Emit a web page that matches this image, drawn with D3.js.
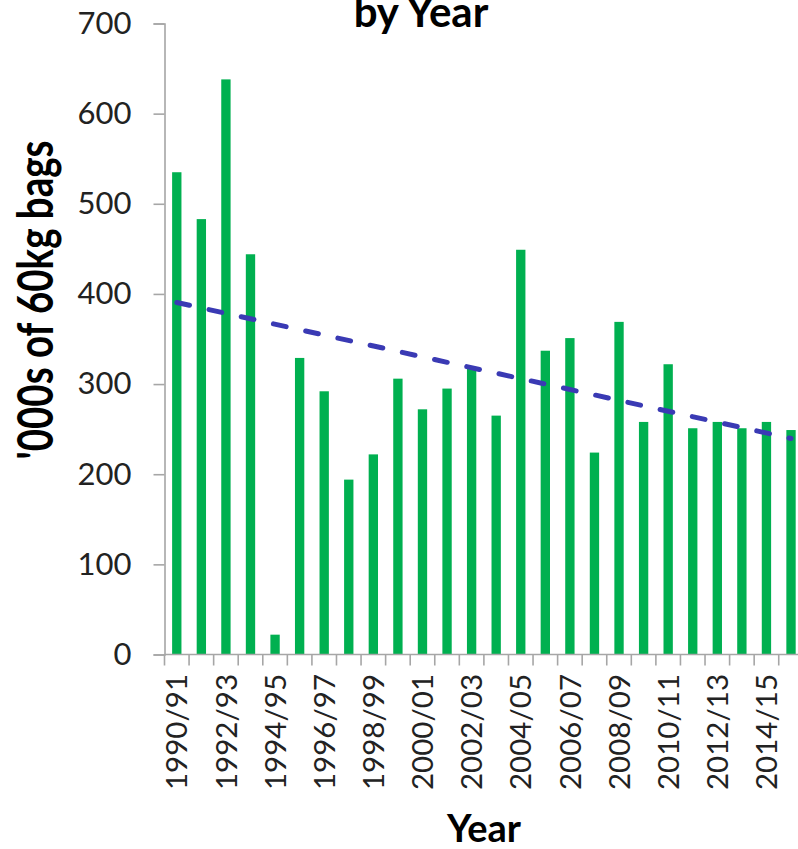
<!DOCTYPE html>
<html>
<head>
<meta charset="utf-8">
<script src="https://cdn.jsdelivr.net/npm/d3@7"></script>
<style>
  html, body { margin: 0; padding: 0; background: #fff; }
  svg { display: block; }
  text { font-family: Lato, "Open Sans", sans-serif; fill: #222; }
</style>
</head>
<body>
<svg id="chart" width="798" height="849"></svg>
<script>
// Season production, thousands of 60kg bags
const seasons = [
  "1990/91","1991/92","1992/93","1993/94","1994/95","1995/96","1996/97",
  "1997/98","1998/99","1999/00","2000/01","2001/02","2002/03","2003/04",
  "2004/05","2005/06","2006/07","2007/08","2008/09","2009/10","2010/11",
  "2011/12","2012/13","2013/14","2014/15","2015/16"
];
const production = [
  535, 483, 638, 444, 22, 329, 292, 194, 222, 306, 272, 295, 319,
  265, 449, 337, 351, 224, 369, 258, 322, 251, 258, 251, 258, 249
];
const yTicks = [0, 100, 200, 300, 400, 500, 600, 700];
const titleText = "by Year";
const xTitle = "Year";
const yTitle = "'000s of 60kg bags";

const svg = d3.select("#chart");

const x = d3.scaleBand()
  .domain(seasons)
  .range([164.5, 803.3])
  .paddingInner(0.62)
  .paddingOuter(0.31);

const y = d3.scaleLinear().domain([0, 700]).range([654.5, 23.5]);

const axisColor = "#a6a6a6";

// Title (its first line sits above the top edge)
svg.append("text")
  .attr("x", 421).attr("y", 27)
  .attr("text-anchor", "middle")
  .attr("font-weight", "bold")
  .attr("font-size", 42)
  .style("fill", "#000")
  .text(titleText);

// Bars
svg.append("g").selectAll("rect")
  .data(seasons)
  .join("rect")
  .attr("x", d => x(d))
  .attr("width", x.bandwidth())
  .attr("y", (d, i) => y(production[i]))
  .attr("height", (d, i) => y(0) - y(production[i]))
  .attr("fill", "#00b050");

// Y axis
const yAxis = d3.axisLeft(y).tickValues(yTicks).tickSize(11).tickPadding(22);
const gy = svg.append("g").attr("transform", "translate(164.5,0)").call(yAxis);
gy.select(".domain").attr("stroke", axisColor).attr("stroke-width", 1.6);
gy.selectAll(".tick line").attr("stroke", axisColor).attr("stroke-width", 1.6);
gy.selectAll(".tick text")
  .attr("font-family", "Lato, 'Open Sans', sans-serif")
  .attr("font-size", 31)
  .style("fill", "#222");

// X axis: tick marks on the category boundaries, labels on every other season
const step = x.step();
const x0 = x.range()[0];
const boundaries = d3.range(seasons.length + 1);
const gx = svg.append("g");
gx.append("line")
  .attr("x1", x0).attr("x2", x.range()[1])
  .attr("y1", y(0)).attr("y2", y(0))
  .attr("stroke", axisColor).attr("stroke-width", 1.6);
gx.selectAll("line.tk")
  .data(boundaries)
  .join("line")
  .attr("class", "tk")
  .attr("x1", i => x0 + i * step).attr("x2", i => x0 + i * step)
  .attr("y1", y(0)).attr("y2", y(0) + 11)
  .attr("stroke", axisColor).attr("stroke-width", 1.6);
gx.selectAll("text")
  .data(seasons.filter((d, i) => i % 2 === 0))
  .join("text")
  .attr("transform", d => `translate(${x(d) + x.bandwidth() / 2},674) rotate(-90)`)
  .attr("dy", "0.36em")
  .attr("text-anchor", "end")
  .attr("font-size", 29.5)
  .text(d => d);

// Axis titles
svg.append("text")
  .attr("x", 484).attr("y", 842)
  .attr("text-anchor", "middle")
  .attr("font-weight", "bold")
  .attr("font-size", 38)
  .style("fill", "#000")
  .text(xTitle);

svg.append("text")
  .attr("transform", "translate(53,300) rotate(-90) scale(1,1.28)")
  .attr("text-anchor", "middle")
  .attr("font-weight", "bold")
  .attr("font-size", 38.5)
  .style("fill", "#000")
  .text(yTitle);

// Linear least-squares trend across the seasons
const n = production.length;
const idx = d3.range(n);
const mx = d3.mean(idx), my = d3.mean(production);
const slope = d3.sum(idx, i => (i - mx) * (production[i] - my)) / d3.sum(idx, i => (i - mx) ** 2);
const intercept = my - slope * mx;
const trend = [0, n - 1].map(i => [x(seasons[i]) + x.bandwidth() / 2, y(intercept + slope * i)]);

svg.append("path")
  .attr("d", d3.line()(trend))
  .attr("fill", "none")
  .attr("stroke", "#3a3ab4")
  .attr("stroke-width", 5)
  .attr("stroke-linecap", "round")
  .attr("stroke-dasharray", "13,20");
</script>
</body>
</html>
